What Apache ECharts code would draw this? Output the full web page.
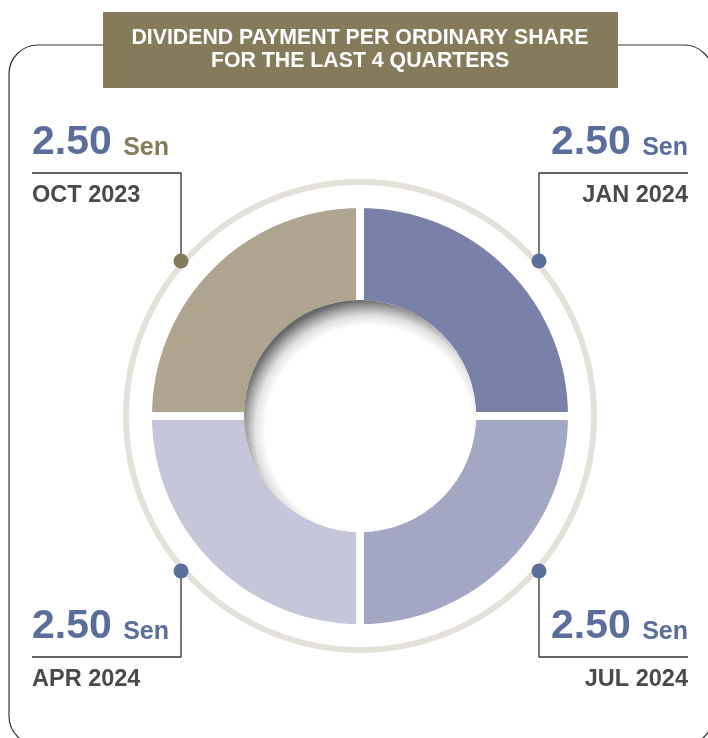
<!DOCTYPE html>
<html>
<head>
<meta charset="utf-8">
<title>Dividend Payment</title>
<script src="https://cdn.jsdelivr.net/npm/echarts@6/dist/echarts.min.js"></script>
<style>
  html, body { margin: 0; padding: 0; background: #fff; }
  #chart { width: 708px; height: 738px; }
</style>
</head>
<body>
<div id="chart"></div>
<script>
// data
const quarters = ["OCT 2023", "JAN 2024", "JUL 2024", "APR 2024"];
const dividends = [2.5, 2.5, 2.5, 2.5];
const unit = "Sen";
const titleText = "DIVIDEND PAYMENT PER ORDINARY SHARE\nFOR THE LAST 4 QUARTERS";

// styles
const sliceColors = ["#afa48f", "#7981a8", "#a3a7c3", "#c5c6da"];
const accentColors = ["#857a5a", "#5b6d9a", "#5b6d9a", "#5b6d9a"];
const valueColor = "#5b6d9a";
const dateColor = "#4a4a4a";
const font = "'Liberation Sans', Arial, Helvetica, sans-serif";

// layout
const cx = 360, cy = 416;
const startAngle = 180;
const ringR = 234;
const dotDx = 179, dotDy = 155;
const lineYTop = 173, lineYBottom = 657;
const edgeLeft = 32, edgeRight = 688;

const chart = echarts.init(document.getElementById("chart"));

// which corner each slice sits in, from its middle angle
const total = dividends.reduce((a, b) => a + b, 0);
let acc = 0;
const corners = dividends.map((v) => {
  const mid = (startAngle - ((acc + v / 2) / total) * 360) * Math.PI / 180;
  acc += v;
  return { sx: Math.cos(mid) < 0 ? -1 : 1, sy: Math.sin(mid) > 0 ? 1 : -1 };
});

const dots = corners.map((c, i) => ({
  type: "circle",
  z: 60,
  shape: { cx: cx + c.sx * dotDx, cy: cy - c.sy * dotDy, r: 7.5 },
  style: { fill: accentColors[i] },
}));

const option = {
  animation: false,
  graphic: [
    {
      type: "rect",
      z: 1,
      shape: { x: 9, y: 45, width: 704, height: 700, r: 29 },
      style: { fill: "none", stroke: "#333", lineWidth: 1.2 },
    },
    {
      type: "rect",
      z: 5,
      shape: { x: 103, y: 12, width: 515, height: 76 },
      style: { fill: "#857a5a" },
    },
    {
      type: "text",
      z: 6,
      x: 360,
      y: 26,
      style: {
        text: titleText,
        align: "center",
        verticalAlign: "top",
        fill: "#fff",
        fontSize: 21.3,
        fontWeight: "bold",
        lineHeight: 23.5,
        fontFamily: font,
      },
    },
    {
      type: "circle",
      z: 1,
      shape: { cx: cx, cy: cy, r: ringR },
      style: { fill: "none", stroke: "#e4e1db", lineWidth: 6 },
    },
    {
      // hole with inner shadow
      type: "circle",
      z: 50,
      shape: { cx: cx, cy: cy, r: 116 },
      style: {
        fill: {
          type: "radial",
          x: 0.54,
          y: 0.56,
          r: 0.56,
          colorStops: [
            { offset: 0, color: "#ffffff" },
            { offset: 0.8, color: "#ffffff" },
            { offset: 0.88, color: "#e0e0e0" },
            { offset: 0.95, color: "#a0a0a0" },
            { offset: 1, color: "#686868" },
          ],
        },
      },
    },
    ...dots,
  ],
  series: [
    {
      type: "pie",
      center: [cx, cy],
      radius: [112, 212],
      startAngle: startAngle,
      clockwise: true,
      avoidLabelOverlap: false,
      silent: true,
      itemStyle: { borderColor: "#fff", borderWidth: 8 },
      label: {
        show: true,
        position: "outside",
        formatter: (p) =>
          "{v|" + p.value.toFixed(2) + " }{u" + p.dataIndex + "|" + unit + "}\n{d|" + p.name + "}",
        rich: Object.assign(
          {
            v: { fontSize: 41, fontWeight: "bold", color: valueColor, lineHeight: 54, fontFamily: font },
            d: { fontSize: 23.5, fontWeight: "bold", color: dateColor, lineHeight: 52, fontFamily: font },
          },
          ...accentColors.map((c, i) => ({
            ["u" + i]: {
              fontSize: 25,
              fontWeight: "bold",
              color: c,
              lineHeight: 43,
              padding: [11, 0, 0, 0],
              fontFamily: font,
            },
          }))
        ),
      },
      labelLine: {
        show: true,
        length: 10,
        length2: 10,
        lineStyle: { color: "#333", width: 1.3 },
      },
      labelLayout: (params) => {
        const c = corners[params.dataIndex];
        const lineY = c.sy > 0 ? lineYTop : lineYBottom;
        const edgeX = c.sx < 0 ? edgeLeft : edgeRight;
        const dx = cx + c.sx * dotDx;
        const dy = cy - c.sy * dotDy;
        return {
          x: edgeX,
          y: lineY - 57,
          align: c.sx < 0 ? "left" : "right",
          verticalAlign: "top",
          labelLinePoints: [
            [dx, dy],
            [dx, lineY],
            [edgeX, lineY],
          ],
        };
      },
      data: quarters.map((q, i) => ({
        name: q,
        value: dividends[i],
        itemStyle: { color: sliceColors[i] },
      })),
    },
  ],
};

chart.setOption(option);
</script>
</body>
</html>
